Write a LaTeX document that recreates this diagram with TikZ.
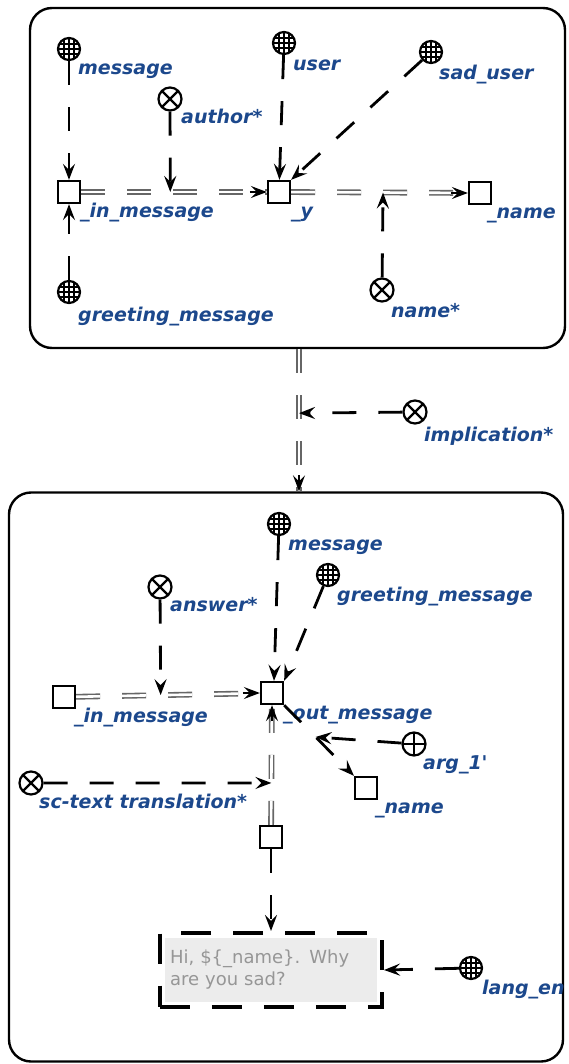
\documentclass[tikz,border=0pt]{standalone}
\usepackage{fontspec}
\setmainfont{DejaVu Sans}
\usetikzlibrary{arrows.meta,fit}
\definecolor{scblue}{RGB}{28,72,140}
\definecolor{sctext}{RGB}{150,150,150}
\definecolor{scfill}{RGB}{236,236,236}
\tikzset{
  sclabel/.style={font=\fontsize{19}{22}\selectfont\bfseries\itshape,text=scblue,anchor=west,inner sep=0pt,text height=14pt,text depth=4pt},
  globe/.style={circle,draw,line width=2.2pt,minimum size=22pt,inner sep=0pt,fill=white,
    path picture={\foreach \d in {-5,0,5}{
      \draw[line width=1.2pt] ([xshift=\d pt]path picture bounding box.north) -- ([xshift=\d pt]path picture bounding box.south);
      \draw[line width=1.2pt] ([yshift=\d pt]path picture bounding box.west) -- ([yshift=\d pt]path picture bounding box.east);}}},
  cross/.style={circle,draw,line width=2.2pt,minimum size=23pt,inner sep=0pt,fill=white,
    path picture={\draw[line width=2.2pt] (path picture bounding box.north west) -- (path picture bounding box.south east)
      (path picture bounding box.north east) -- (path picture bounding box.south west);}},
  plusc/.style={circle,draw,line width=2.2pt,minimum size=23pt,inner sep=0pt,fill=white,
    path picture={\draw[line width=2.2pt] (path picture bounding box.north) -- (path picture bounding box.south)
      (path picture bounding box.west) -- (path picture bounding box.east);}},
  sqr/.style={rectangle,draw,line width=2.3pt,minimum size=22pt,inner sep=0pt,fill=white},
  contour/.style={draw,line width=2.4pt,rounded corners=22pt,inner sep=0pt},
  accarc/.style={line width=2.8pt,dash pattern=on 24pt off 22pt,-{Stealth[length=16pt,width=12pt,inset=6pt]}},
  dblarc/.style={draw=black!60,double=white,double distance=2.6pt,line width=1.6pt,dash pattern=on 24pt off 22pt},
  tiparc/.style={line width=1.8pt,-{Stealth[length=16pt,width=12pt,inset=6pt]}},
  txtcell/.style={fill=scfill,text=sctext,font=\fontsize{18}{22}\selectfont,align=left,text width=202pt,inner sep=5pt,minimum height=64pt},
  txtframe/.style={draw,line width=3.6pt,dash pattern=on 30pt off 22pt,inner sep=5pt}
}
\begin{document}
\begin{tikzpicture}[x=1pt,y=-1pt,line cap=butt,line join=miter]
  \useasboundingbox (0,0) rectangle (568,1064);
  \node[contour,minimum width=535pt,minimum height=340pt] (ctop) at (297.5,178) {};
  \node[contour,minimum width=554pt,minimum height=569pt] (cbot) at (286,777) {};

  \node[globe] (msg) at (69,49) {};
  \node[sclabel] (msgl) at (78,70) {message};
  \node[cross] (auth) at (170,99) {};
  \node[sclabel] (authl) at (181,119) {author*};
  \node[globe] (usr) at (284,43) {};
  \node[sclabel] (usrl) at (293,66) {user};
  \node[globe] (sad) at (431,52) {};
  \node[sclabel] (sadl) at (439,75) {sad\_user};
  \node[sqr] (inm) at (69,192) {};
  \node[sclabel] (inml) at (80,213) {\_in\_message};
  \node[sqr] (y) at (279,192) {};
  \node[sclabel] (yl) at (291,213) {\_y};
  \node[sqr] (nm) at (480,193) {};
  \node[sclabel] (nml) at (487,214) {\_name};
  \node[globe] (grt) at (69,292) {};
  \node[sclabel] (grtl) at (78,316) {greeting\_message};
  \node[cross] (nam) at (382,290) {};
  \node[sclabel] (naml) at (391,312) {name*};

  \draw[accarc] (msg) -- (inm);
  \draw[accarc] (grt) -- (inm);
  \draw[dblarc] (inm) -- coordinate[pos=.48] (inmy) (y);
  \draw[tiparc] ([xshift=-17pt]y.west) -- (y.west);
  \draw[accarc] (auth) -- (inmy);
  \draw[accarc] (usr) -- (y);
  \draw[accarc] (sad) -- (y.north east);
  \draw[dblarc] (y) -- coordinate[pos=.52] (ynm) (nm);
  \draw[tiparc] ([xshift=-17pt]nm.west) -- (nm.west);
  \draw[accarc] (nam) -- (ynm);

  \node[cross] (impl) at (415,412) {};
  \node[sclabel] (impll) at (424,436) {implication*};
  \draw[dblarc] ([xshift=1.5pt]ctop.south) -- coordinate[pos=.45] (impmid) ([xshift=13pt]cbot.north);
  \draw[tiparc] ([xshift=13pt,yshift=16pt]cbot.north) -- ([xshift=13pt]cbot.north);
  \draw[accarc] (impl) -- (impmid);

  \node[globe] (msg2) at (279,524) {};
  \node[sclabel] (msg2l) at (288,545) {message};
  \node[globe] (grt2) at (328,575) {};
  \node[sclabel] (grt2l) at (337,596) {greeting\_message};
  \node[cross] (ans) at (160,587) {};
  \node[sclabel] (ansl) at (170,606) {answer*};
  \node[sqr] (inm2) at (64,697) {};
  \node[sclabel] (inm2l) at (74,717) {\_in\_message};
  \node[sqr] (out) at (272,693) {};
  \node[sclabel] (outl) at (283,714) {\_out\_message};
  \node[plusc] (arg) at (414,744) {};
  \node[sclabel] (argl) at (423,764) {arg\_1\textquotesingle};
  \node[sqr] (nm2) at (366,788) {};
  \node[sclabel] (nm2l) at (375,808) {\_name};
  \node[cross] (sct) at (31,783) {};
  \node[sclabel] (sctl) at (39,803) {sc-text translation*};
  \node[sqr] (lnk) at (271,837) {};
  \node[txtcell] (txt) at (271,970) {Hi, \$\{\_name\}. Why\\are you sad?};
  \node[txtframe,fit=(txt)] (txtbox) {};
  \node[globe] (lang) at (471,968) {};
  \node[sclabel] (langl) at (482,989) {lang\_en};

  \draw[dblarc] (inm2) -- coordinate[pos=.46] (inmout) (out);
  \draw[tiparc] ([xshift=-17pt]out.west) -- (out.west);
  \draw[accarc] (ans) -- (inmout);
  \draw[accarc] (msg2) -- ([xshift=2pt]out.north);
  \draw[accarc] (grt2) -- (out.north east);
  \draw[accarc] (out.south east) -- coordinate[pos=.45] (outnm) (nm2);
  \draw[accarc] (arg) -- (outnm);
  \draw[dblarc] (lnk) -- coordinate[pos=.35] (lnkout) (out);
  \draw[tiparc] ([yshift=-16pt]out.south) -- (out.south);
  \draw[accarc] (sct) -- (lnkout);
  \draw[accarc] (lnk) -- (txtbox.north);
  \draw[accarc] (lang) -- (txtbox.east);
\end{tikzpicture}
\end{document}
